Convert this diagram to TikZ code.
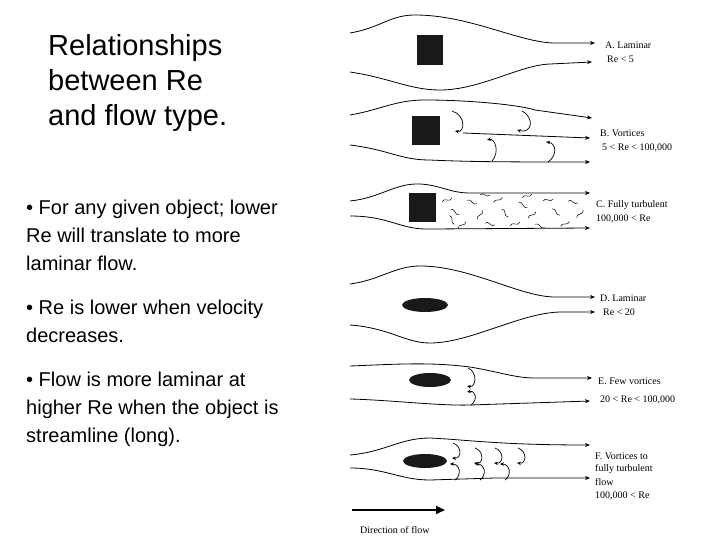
\documentclass[tikz,border=0pt]{standalone}
\usepackage{fontspec}
\setmainfont{Liberation Sans}
\newfontfamily\serifl{Liberation Serif}
\usetikzlibrary{arrows.meta}
\begin{document}
\begin{tikzpicture}[x=1pt,y=-1pt,
  sl/.style={line width=0.8pt,-{Stealth[length=5pt,width=4pt]}},
  obj/.style={fill=black!90},
  lab/.style={anchor=west,font=\serifl\fontsize{10}{12}\selectfont,inner sep=0pt,align=left},
  curl/.style={line width=0.7pt,-{Stealth[length=4pt,width=3.5pt]}},
  bt/.style={anchor=west,font=\fontsize{20}{28}\selectfont,inner sep=0pt,align=left},
  squig/.style={line width=0.5pt}]
\useasboundingbox (0,0) rectangle (720,540);
% left text
\node[bt,anchor=north west,font=\fontsize{29}{35}\selectfont] (title) at (48,34) {Relationships\\between Re\\and flow type.};
\node[bt,anchor=north west] (b1) at (26,200) {• For any given object; lower\\Re will translate to more\\laminar flow.};
\node[bt,anchor=north west] (b2) at (26,300) {• Re is lower when velocity\\decreases.};
\node[bt,anchor=north west] (b3) at (26,372) {• Flow is more laminar at\\higher Re when the object is\\streamline (long).};
% A
\draw[sl] (350,33) .. controls (380,28) and (390,15) .. (415,15) .. controls (470,15) and (520,43) .. (555,43) -- (595,43);
\draw[sl] (350,72) .. controls (390,78) and (410,90) .. (440,90) .. controls (480,90) and (520,65) .. (550,64) -- (592,62);
\fill[obj] (417,35) rectangle (443,65);
\node[lab] (la) at (605,45) {A. Laminar};
\node[lab] (la2) at (607,59) {Re < 5};
% B
\draw[sl] (350,115) .. controls (380,110) and (395,100) .. (425,100) .. controls (470,100) and (520,105) .. (535,110) -- (592,118);
\draw[sl] (463,133) -- (590,138);
\draw[sl] (350,145) .. controls (390,150) and (400,160) .. (430,160) .. controls (470,162) and (520,162) .. (590,162);
\fill[obj] (412,116) rectangle (440,145);
\draw[curl] (452,111) .. controls (466,115) and (465,133) .. (455,131);
\draw[curl] (522,111) .. controls (535,118) and (532,134) .. (517,130);
\draw[curl] (492,161) .. controls (500,152) and (495,138) .. (487,140);
\draw[curl] (548,162) .. controls (558,155) and (556,143) .. (546,142);
\node[lab] (lb) at (600,133) {B. Vortices};
\node[lab] (lb2) at (602,148) {5 < Re < 100,000};
% C
\draw[sl] (350,201) .. controls (380,198) and (395,183) .. (420,184) .. controls (440,185) and (450,193) .. (470,193) -- (590,193);
\draw[sl] (350,216) .. controls (390,216) and (400,230) .. (430,229) -- (590,228);
\fill[obj] (409,193) rectangle (436,222);
\foreach \x/\y/\a in {447/200/20,455/212/-30,462/225/40,472/202/-20,480/215/60,490/224/-10,498/200/30,505/213/-50,515/224/20,523/205/-30,532/215/40,540/226/-20,548/200/10,556/212/-40,565/224/30,573/202/-10,580/214/50,452/220/-60,485/195/0,527/196/20}
  \draw[squig,rotate around={\a:(\x,\y)}] (\x-5,\y) .. controls (\x-2,\y-4) and (\x+2,\y+4) .. (\x+5,\y);
\node[lab] (lc) at (596,205) {C. Fully turbulent};
\node[lab] (lc2) at (596,219) {100,000 < Re};
% D
\draw[sl] (350,284) .. controls (380,280) and (395,266) .. (420,266) .. controls (470,266) and (520,297) .. (555,297) -- (595,297);
\draw[sl] (350,325) .. controls (390,328) and (405,343) .. (430,343) .. controls (470,343) and (520,313) .. (560,312) -- (595,312);
\fill[obj] (425,305) ellipse (23 and 7);
\node[lab] (ld) at (600,298) {D. Laminar};
\node[lab] (ld2) at (603,312) {Re < 20};
% E
\draw[sl] (350,366) .. controls (400,364) and (430,362) .. (470,367) .. controls (500,372) and (515,378) .. (535,378) -- (592,378);
\draw[sl] (350,399) .. controls (390,400) and (440,406) .. (470,405) -- (590,401);
\fill[obj] (430,380) ellipse (21 and 7);
\draw[curl] (468,368) .. controls (478,372) and (476,388) .. (467,386);
\draw[curl] (471,405) .. controls (478,400) and (476,390) .. (467,392);
\node[lab] (le) at (598,381) {E. Few vortices};
\node[lab] (le2) at (600,400) {20 < Re < 100,000};
% F
\draw[sl] (350,455) .. controls (385,452) and (400,438) .. (430,438) .. controls (470,440) and (500,445) .. (590,445);
\draw[sl] (350,468) .. controls (385,468) and (400,480) .. (430,480) -- (495,478) -- (590,478);
\fill[obj] (425,461) ellipse (22 and 7);
\foreach \x/\y in {453/443,475/448,495/448,518/448}
  \draw[curl] (\x,\y) .. controls (\x+9,\y+3) and (\x+9,\y+16) .. (\x-1,\y+15);
\foreach \x/\y in {455/480,480/480,505/480}
  \draw[curl] (\x,\y) .. controls (\x+7,\y-5) and (\x+5,\y-16) .. (\x-5,\y-16);
\node[lab] (lf) at (595,456) {F. Vortices to};
\node[lab] (lf2) at (595,469) {fully turbulent};
\node[lab] (lf3) at (595,482) {flow};
\node[lab] (lf4) at (595,496) {100,000 < Re};
% direction
\coordinate (ds) at (352,510);
\coordinate (de) at (445,510);
\draw[line width=2pt,-{Triangle[length=9pt,width=8pt]}] (ds) -- (de);
\node[lab] (dl) at (360,530) {Direction of flow};
\end{tikzpicture}
\end{document}
